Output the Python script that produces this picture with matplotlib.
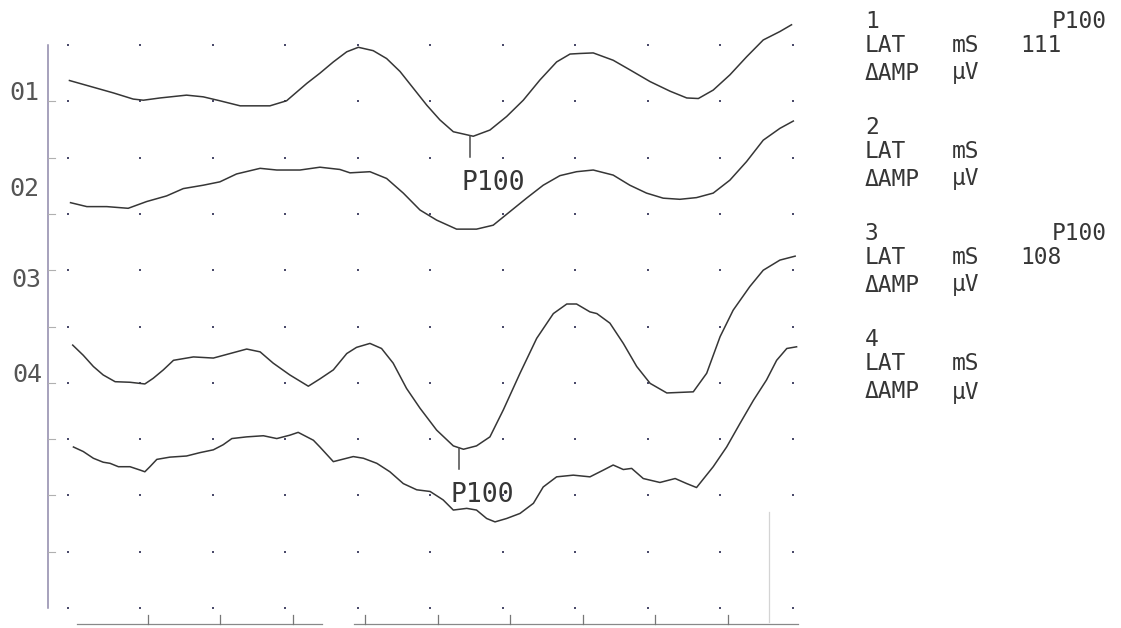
import numpy as np
import matplotlib
matplotlib.use("Agg")
import matplotlib.pyplot as plt

# time base (ms) and amplitude (grid divisions, relative to each channel baseline)
t1 = [0.4, 7.0, 12.5, 18.0, 20.8, 25.4, 32.7, 37.3, 41.9, 47.5, 55.7, 60.3, 65.9, 69.5, 73.2,
      76.9, 80.1, 84.2, 87.9, 91.6, 95.3, 99.0, 102.6, 106.3, 111.8, 116.4, 121.0, 125.6,
      130.2, 134.8, 138.5, 141.2, 144.9, 150.4, 155.0, 160.6, 166.1, 170.7, 173.9, 178.0,
      182.6, 187.2, 191.8, 196.4, 199.6]
a1 = [0.37, 0.25, 0.15, 0.04, 0.02, 0.06, 0.11, 0.08, 0.01, -0.08, -0.08, 0.01, 0.32, 0.50,
      0.70, 0.88, 0.96, 0.90, 0.76, 0.53, 0.23, -0.07, -0.33, -0.54, -0.62, -0.51, -0.27,
      0.02, 0.38, 0.70, 0.84, 0.85, 0.86, 0.73, 0.56, 0.35, 0.18, 0.06, 0.05, 0.20, 0.47,
      0.79, 1.09, 1.24, 1.36]

t2 = [0.7, 5.2, 10.7, 16.6, 21.7, 27.2, 31.8, 37.3, 41.9, 46.5, 53.0, 57.6, 64.0, 69.5, 75.0,
      77.8, 83.3, 87.9, 92.5, 97.1, 101.7, 107.2, 112.7, 117.3, 121.9, 126.5, 131.1, 135.7,
      140.3, 144.9, 150.4, 155.0, 159.6, 164.2, 168.8, 173.4, 178.0, 182.6, 187.2, 191.8,
      196.4, 200.1]
a2 = [0.20, 0.13, 0.13, 0.10, 0.22, 0.32, 0.45, 0.51, 0.57, 0.71, 0.81, 0.78, 0.78, 0.83,
      0.79, 0.73, 0.75, 0.63, 0.37, 0.07, -0.11, -0.27, -0.27, -0.20, 0.04, 0.28, 0.51, 0.68,
      0.75, 0.78, 0.69, 0.51, 0.37, 0.28, 0.26, 0.29, 0.37, 0.60, 0.93, 1.31, 1.52, 1.65]

t3 = [1.3, 4.2, 7.0, 9.7, 13.0, 17.1, 21.2, 23.5, 26.3, 29.1, 34.6, 40.1, 44.7, 49.3, 53.0,
      56.6, 61.2, 66.3, 69.5, 73.2, 76.9, 79.6, 83.3, 86.5, 89.7, 93.4, 97.1, 101.7, 106.3,
      109.1, 112.7, 116.4, 120.1, 124.7, 129.3, 133.9, 137.6, 140.3, 144.0, 145.9, 149.5,
      153.2, 156.9, 160.6, 165.2, 172.5, 176.2, 179.9, 183.5, 188.1, 191.8, 196.4, 200.6]
a3 = [0.67, 0.49, 0.29, 0.14, 0.02, 0.01, -0.02, 0.08, 0.23, 0.40, 0.46, 0.44, 0.52, 0.60,
      0.55, 0.35, 0.14, -0.06, 0.07, 0.23, 0.52, 0.63, 0.70, 0.61, 0.35, -0.10, -0.45, -0.84,
      -1.12, -1.18, -1.12, -0.96, -0.48, 0.17, 0.79, 1.23, 1.40, 1.40, 1.26, 1.23, 1.06, 0.70,
      0.29, -0.01, -0.18, -0.16, 0.17, 0.82, 1.29, 1.71, 2.00, 2.18, 2.25]

t4 = [1.5, 4.2, 7.0, 9.7, 11.6, 13.9, 17.1, 19.9, 21.2, 22.6, 24.5, 28.1, 32.7, 36.4, 40.1,
      42.8, 45.2, 49.3, 53.9, 57.6, 61.2, 63.5, 67.7, 69.5, 73.2, 78.7, 81.5, 85.2, 88.8,
      92.5, 96.2, 99.9, 103.5, 106.3, 110.0, 112.7, 115.5, 117.8, 121.0, 124.7, 128.4,
      131.1, 134.8, 139.4, 144.0, 147.7, 150.4, 153.2, 155.5, 158.7, 163.3, 167.5, 170.7,
      173.4, 178.0, 181.7, 185.4, 189.1, 192.7, 195.5, 198.3, 201.0]
a4 = [-0.14, -0.22, -0.34, -0.41, -0.43, -0.49, -0.49, -0.55, -0.58, -0.49, -0.36, -0.32,
      -0.30, -0.24, -0.19, -0.10, 0.01, 0.04, 0.06, 0.01, 0.07, 0.12, -0.02, -0.14, -0.40,
      -0.31, -0.34, -0.43, -0.58, -0.79, -0.90, -0.93, -1.08, -1.26, -1.23, -1.26, -1.41,
      -1.47, -1.41, -1.32, -1.14, -0.85, -0.67, -0.64, -0.67, -0.55, -0.46, -0.54, -0.52,
      -0.70, -0.77, -0.70, -0.79, -0.86, -0.49, -0.14, 0.28, 0.69, 1.05, 1.40, 1.61, 1.64]

times = [t1, t2, t3, t4]
amps = [a1, a2, a3, a4]
baselines = [9, 7, 4, 3]

channel_labels = ["01", "02", "03", "04"]
p100_trace = [0, 2]
p100_lat = [111, 108]
bottom_ticks = [22, 42, 62, 82, 102, 122, 142, 162, 182]

INK = "#363636"
MONO = ["DejaVu Sans Mono", "DejaVu Sans"]

W, H = 1121, 628
fig = plt.figure(figsize=(W / 100, H / 100), dpi=100)
fig.patch.set_facecolor("white")
ax = fig.add_axes([0, 0, 1, 1])
ax.set_xlim(-18.76, 290.5)
ax.set_ylim(-0.355, 10.80)
ax.axis("off")


def fpx(x, y):
    return x / W, 1 - y / H


# dot grid
gx, gy = np.meshgrid(np.arange(0, 201, 20), np.arange(0, 11))
ax.plot(gx.ravel(), gy.ravel(), ls="none", marker="s", ms=1.8, color="#4b4b6b", mew=0)

# left axis + small ticks
ax.plot([-5.5, -5.5], [0, 10], color="#8e88aa", lw=1.1)
for r in range(1, 10):
    ax.plot([-5.5, -3.5], [r, r], color="#b0b0b0", lw=0.8)

# bottom axis with gap
ax.plot([2.5, 70], [-0.284, -0.284], color="#888888", lw=0.9)
ax.plot([79, 201.4], [-0.284, -0.284], color="#888888", lw=0.9)
for bt in bottom_ticks:
    ax.plot([bt, bt], [-0.284, -0.13], color="#777777", lw=0.9)

# scan artefact line near the right end
ax.plot([193.4, 193.4], [-0.25, 1.7], color="#d4d4d4", lw=0.9)

# traces
for t, a, b in zip(times, amps, baselines):
    ax.plot(t, np.array(a) + b, color=INK, lw=1.1, solid_joinstyle="round")

# P100 markers
for idx, lat in zip(p100_trace, p100_lat):
    v = np.interp(lat, times[idx], amps[idx]) + baselines[idx]
    ax.plot([lat, lat], [v, v - 0.38], color="#4a4a4a", lw=1.1)
    ax.annotate("P100", xy=(lat, v - 0.38), xytext=(-9, -26), textcoords="offset pixels",
                ha="left", va="center", fontsize=19, color=INK, family=MONO)

# channel labels
for lab, (x, y) in zip(channel_labels, [(9, 93), (9, 189), (11, 280), (12, 375)]):
    fig.text(*fpx(x, y), lab, ha="left", va="center", fontsize=18, color="#555555", family=MONO)

# right side result panel
panel = [("1", "111", 21), ("2", "", 127), ("3", "108", 233), ("4", "", 340)]
fs = 16.5
for num, lat, y0 in panel:
    fig.text(*fpx(865, y0), num, ha="left", va="center", fontsize=fs, color=INK, family=MONO)
    if lat:
        fig.text(*fpx(1107, y0), "P100", ha="right", va="center", fontsize=fs, color=INK, family=MONO)
        fig.text(*fpx(1020, y0 + 24), lat, ha="left", va="center", fontsize=fs, color=INK, family=MONO)
    fig.text(*fpx(865, y0 + 24), "LAT", ha="left", va="center", fontsize=fs, color=INK, family=MONO)
    fig.text(*fpx(952, y0 + 24), "mS", ha="left", va="center", fontsize=fs, color=INK, family=MONO)
    fig.text(*fpx(865, y0 + 52), "ΔAMP", ha="left", va="center", fontsize=fs, color=INK, family=MONO)
    fig.text(*fpx(952, y0 + 52), "μV", ha="left", va="center", fontsize=fs, color=INK, family=MONO)

fig.savefig("out.png", dpi=100, facecolor="white")
